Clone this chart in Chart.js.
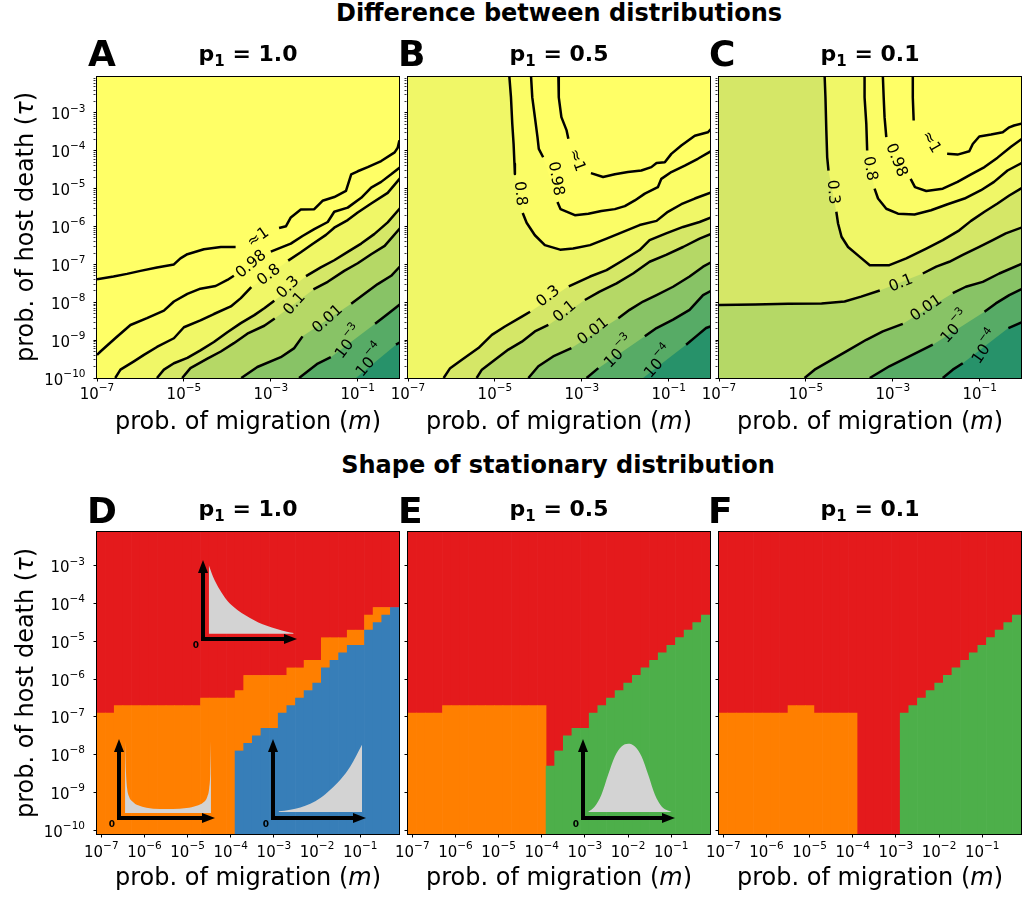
<!DOCTYPE html>
<html>
<head>
<meta charset="utf-8">
<title>Difference between distributions / Shape of stationary distribution</title>
<script src="https://cdn.jsdelivr.net/npm/chart.js"></script>
<style>
html,body{margin:0;padding:0;background:#fff;}
#fig{position:relative;width:1024px;height:900px;overflow:hidden;font-family:"DejaVu Sans",sans-serif;color:#000;background:#fff;}
#fig canvas{position:absolute;}
.tx{position:absolute;white-space:nowrap;line-height:1;transform:translate(-50%,-50%);}
.b{font-weight:bold;}
.lt{position:absolute;white-space:nowrap;line-height:1;transform:translate(0,-50%);font-weight:bold;font-size:36px;}
.sub{font-size:15px;position:relative;top:5px;}
.yt{transform:translate(-50%,-50%) rotate(-90deg);}
</style>
</head>
<body>
<div id="fig">
<canvas id="cA" width="412" height="363" style="left:1px;top:57px"></canvas>
<canvas id="cB" width="412" height="363" style="left:312px;top:57px"></canvas>
<canvas id="cC" width="412" height="363" style="left:623px;top:57px"></canvas>
<canvas id="cD" width="412" height="364" style="left:1px;top:512px"></canvas>
<canvas id="cE" width="412" height="364" style="left:312px;top:512px"></canvas>
<canvas id="cF" width="412" height="364" style="left:623px;top:512px"></canvas>
<canvas id="i1" width="116" height="99" style="left:191px;top:552px"></canvas>
<canvas id="i2" width="118" height="99" style="left:107px;top:731px"></canvas>
<canvas id="i3" width="115" height="99" style="left:261px;top:731px"></canvas>
<canvas id="i4" width="114" height="99" style="left:571px;top:731px"></canvas>

<div class="tx b" style="left:559px;top:13px;font-size:24px">Difference between distributions</div>
<div class="tx b" style="left:558px;top:465px;font-size:24px">Shape of stationary distribution</div>

<div class="lt" style="left:88px;top:54px">A</div>
<div class="lt" style="left:398px;top:54px">B</div>
<div class="lt" style="left:709px;top:54px">C</div>
<div class="lt" style="left:87px;top:511px">D</div>
<div class="lt" style="left:398px;top:511px">E</div>
<div class="lt" style="left:708px;top:511px">F</div>

<div class="tx b" style="left:248px;top:54px;font-size:22px">p<span class="sub">1</span> = 1.0</div>
<div class="tx b" style="left:559px;top:54px;font-size:22px">p<span class="sub">1</span> = 0.5</div>
<div class="tx b" style="left:870px;top:54px;font-size:22px">p<span class="sub">1</span> = 0.1</div>
<div class="tx b" style="left:248px;top:509px;font-size:22px">p<span class="sub">1</span> = 1.0</div>
<div class="tx b" style="left:559px;top:509px;font-size:22px">p<span class="sub">1</span> = 0.5</div>
<div class="tx b" style="left:870px;top:509px;font-size:22px">p<span class="sub">1</span> = 0.1</div>

<div class="tx" style="left:248px;top:421px;font-size:24px">prob. of migration (<i>m</i>)</div>
<div class="tx" style="left:559px;top:421px;font-size:24px">prob. of migration (<i>m</i>)</div>
<div class="tx" style="left:870px;top:421px;font-size:24px">prob. of migration (<i>m</i>)</div>
<div class="tx" style="left:248px;top:877px;font-size:24px">prob. of migration (<i>m</i>)</div>
<div class="tx" style="left:559px;top:877px;font-size:24px">prob. of migration (<i>m</i>)</div>
<div class="tx" style="left:870px;top:877px;font-size:24px">prob. of migration (<i>m</i>)</div>
<div class="tx yt" style="left:25px;top:227px;font-size:24px">prob. of host death (<i>τ</i>)</div>
<div class="tx yt" style="left:25px;top:683px;font-size:24px">prob. of host death (<i>τ</i>)</div>
</div>

<script>
// ===================== DATA (log10 units) =====================
// axis ticks (exponents of 10)
const topXMajor = [-7, -5, -3, -1];
const topYMajor = [-10, -9, -8, -7, -6, -5, -4, -3];
const topYMinorDecades = [-10, -9, -8, -7, -6, -5, -4, -3];
const botXMajor = [-7, -6, -5, -4, -3, -2, -1];
const botYMajor = [-10, -9, -8, -7, -6, -5, -4, -3];
const minorSubs = [2, 3, 4, 5, 6, 7, 8, 9];
const topXLim = [-7, -0.05], topYLim = [-10, -2.05];
const botXLim = [-7.1, -0.1], botYLim = [-10.1, -2.1];

// contour levels (top row); "10^-3" = 10 with superscript -3
const levelText = ['≈1', '0.98', '0.8', '0.3', '0.1', '0.01', '10^-3', '10^-4'];

// ---- Panel A (p1 = 1.0): contour lines [log10 m, log10 tau], null = label gap
const A_c1 = [[-7.00,-7.39],[-6.62,-7.32],[-6.31,-7.25],[-6.00,-7.17],[-5.62,-7.08],[-5.23,-7.00],[-5.08,-6.84],[-4.92,-6.73],[-4.54,-6.60],[-4.15,-6.54],[-3.81,-6.54],null,[-2.81,-6.04],[-2.65,-5.99],[-2.54,-5.76],[-2.31,-5.55],[-2.00,-5.54],[-1.81,-5.32],[-1.54,-5.22],[-1.27,-5.06],[-1.15,-4.62],[-1.00,-4.54],[-0.77,-4.43],[-0.46,-4.27],[-0.15,-4.04],[-0.08,-3.92],[-0.04,-3.72]];
const A_c2 = [[-7.00,-9.39],[-6.92,-9.30],[-6.58,-8.95],[-6.23,-8.60],[-5.85,-8.42],[-5.46,-8.22],[-5.23,-7.98],[-4.92,-7.78],[-4.62,-7.64],[-4.27,-7.57],[-4.00,-7.41],[-3.85,-7.30],null,[-3.00,-6.66],[-2.54,-6.45],[-2.27,-6.25],[-2.00,-6.07],[-1.69,-5.88],[-1.54,-5.61],[-1.23,-5.50],[-0.92,-5.24],[-0.69,-4.97],[-0.46,-4.82],[-0.23,-4.62],[0.00,-4.41]];
const A_c3 = [[-6.58,-10.00],[-6.46,-9.78],[-6.15,-9.56],[-5.92,-9.39],[-5.62,-9.18],[-5.23,-8.95],[-5.00,-8.66],[-4.62,-8.48],[-4.31,-8.31],[-3.92,-8.11],[-3.69,-7.89],[-3.45,-7.60],null,[-2.60,-6.90],[-2.31,-6.68],[-2.04,-6.46],[-1.73,-6.22],[-1.54,-6.03],[-1.23,-5.83],[-1.00,-5.63],[-0.69,-5.39],[-0.31,-5.11],[0.00,-4.69]];
const A_c4 = [[-5.62,-10.00],[-5.46,-9.78],[-5.23,-9.61],[-4.92,-9.47],[-4.62,-9.27],[-4.31,-9.05],[-4.00,-8.79],[-3.69,-8.55],[-3.38,-8.34],[-3.15,-8.16],[-2.92,-7.96],null,[-2.19,-7.31],[-1.85,-7.08],[-1.54,-6.89],[-1.23,-6.67],[-0.92,-6.45],[-0.62,-6.20],[-0.31,-5.89],[0.00,-5.48]];
const A_c5 = [[-5.04,-10.00],[-4.85,-9.74],[-4.46,-9.49],[-4.15,-9.30],[-3.85,-9.08],[-3.54,-8.83],[-3.15,-8.62],[-2.91,-8.43],null,[-2.02,-7.66],[-1.69,-7.46],[-1.31,-7.17],[-1.00,-6.97],[-0.69,-6.73],[-0.38,-6.51],[0.00,-6.01]];
const A_c6 = [[-3.68,-10.00],[-3.31,-9.71],[-2.77,-9.45],[-2.46,-9.21],[-2.27,-8.90],null,[-1.15,-8.04],[-0.85,-7.78],[-0.54,-7.52],[-0.23,-7.30],[0.00,-7.02]];
const A_c7 = [[-2.35,-10.00],[-1.92,-9.62],[-1.62,-9.45],null,[-0.60,-8.57],[-0.31,-8.31],[0.00,-8.03]];
const A_c8 = [[-1.04,-10.00],null,[-0.12,-9.12],[0.00,-9.04]];
// label position [log10 m, log10 tau, rotation deg]
const A_labels = [[-3.29,-6.29,-35],[-3.45,-7.00,-40],[-3.04,-7.28,-38],[-2.60,-7.61,-45],[-2.45,-8.04,-48],[-1.69,-8.45,-42],[-1.22,-9.04,-52],[-0.73,-9.52,-50]];

// ---- Panel B (p1 = 0.5)
const B_c1 = [[-3.54,-2.00],[-3.53,-2.59],[-3.47,-3.11],[-3.35,-3.46],[-3.31,-3.68],null,[-2.79,-4.59],[-2.51,-4.69],[-2.24,-4.62],[-1.94,-4.56],[-1.63,-4.52],[-1.40,-4.43],[-1.28,-4.32],[-1.09,-4.30],[-0.94,-4.08],[-0.71,-3.86],[-0.40,-3.60],[-0.10,-3.51],[0.00,-3.39]];
const B_c2 = [[-4.17,-2.00],[-4.14,-2.59],[-4.08,-3.11],[-4.02,-3.64],[-3.99,-3.95],[-3.89,-4.17],null,[-3.56,-5.35],[-3.49,-5.54],[-3.16,-5.70],[-2.85,-5.66],[-2.55,-5.59],[-2.24,-5.54],[-2.01,-5.46],[-1.78,-5.31],[-1.55,-5.13],[-1.25,-4.96],[-1.17,-4.74],[-0.94,-4.56],[-0.63,-4.39],[-0.33,-4.21],[0.00,-3.99]];
const B_c3 = [[-4.67,-2.00],[-4.63,-2.59],[-4.60,-3.29],[-4.57,-3.82],[-4.55,-4.34],[-4.54,-4.61],null,[-4.36,-5.64],[-4.27,-5.90],[-4.08,-6.23],[-3.85,-6.49],[-3.50,-6.61],[-3.20,-6.58],[-2.81,-6.49],[-2.43,-6.32],[-2.05,-6.14],[-1.67,-5.96],[-1.28,-5.85],[-1.02,-5.61],[-0.71,-5.41],[-0.40,-5.26],[0.00,-5.09]];
const B_c4 = [[-6.18,-10.00],[-6.03,-9.74],[-5.76,-9.52],[-5.38,-9.21],[-5.07,-8.86],[-4.77,-8.64],[-4.38,-8.38],[-4.19,-8.25],null,[-3.30,-7.58],[-2.81,-7.32],[-2.43,-7.15],[-2.05,-6.89],[-1.67,-6.62],[-1.44,-6.36],[-1.06,-6.18],[-0.67,-6.01],[-0.29,-5.88],[0.00,-5.75]];
const B_c5 = [[-5.42,-10.00],[-5.30,-9.78],[-5.00,-9.52],[-4.69,-9.25],[-4.38,-9.04],[-4.08,-8.77],[-3.77,-8.60],null,[-2.93,-7.94],[-2.59,-7.72],[-2.20,-7.50],[-1.82,-7.24],[-1.44,-6.93],[-1.06,-6.75],[-0.67,-6.54],[-0.29,-6.32],[0.00,-6.18]];
const B_c6 = [[-4.23,-10.00],[-4.00,-9.69],[-3.66,-9.43],[-3.24,-9.21],null,[-2.16,-8.42],[-1.90,-8.20],[-1.59,-7.98],[-1.28,-7.81],[-0.90,-7.59],[-0.52,-7.32],[-0.21,-7.06],[0.00,-6.93]];
const B_c7 = [[-2.89,-10.00],[-2.62,-9.74],null,[-1.55,-8.90],[-1.28,-8.68],[-0.90,-8.46],[-0.52,-8.20],[-0.21,-7.81],[0.00,-7.68]];
const B_c8 = [[-1.59,-10.00],null,[-0.60,-9.12],[-0.37,-8.90],[-0.14,-8.68],[0.00,-8.62]];
const B_labels = [[-3.12,-4.25,70],[-3.60,-4.74,80],[-4.42,-5.13,84],[-3.77,-7.85,-38],[-3.39,-8.25,-40],[-2.74,-8.77,-38],[-2.16,-9.30,-45],[-1.25,-9.56,-48]];

// ---- Panel C (p1 = 0.1)
const C_c1 = [[-2.54,-2.00],[-2.54,-2.59],[-2.52,-3.20],null,[-1.75,-4.08],[-1.51,-4.10],[-1.24,-4.01],[-1.16,-3.82],[-1.01,-3.62],[-0.74,-3.57],[-0.47,-3.51],[-0.32,-3.38],[-0.21,-3.33],[0.00,-3.27]];
const C_c2 = [[-3.23,-2.00],[-3.21,-2.59],[-3.19,-3.11],[-3.15,-3.64],null,[-2.59,-4.74],[-2.49,-4.96],[-2.23,-5.06],[-1.85,-5.00],[-1.51,-4.82],[-1.20,-4.62],[-0.89,-4.43],[-0.59,-4.18],[-0.28,-3.89],[0.00,-3.66]];
const C_c3 = [[-3.65,-2.00],[-3.65,-2.59],[-3.61,-3.29],[-3.59,-3.99],null,[-3.42,-5.00],[-3.34,-5.26],[-3.15,-5.53],[-2.88,-5.66],[-2.50,-5.68],[-2.12,-5.57],[-1.74,-5.41],[-1.35,-5.26],[-0.97,-5.04],[-0.67,-4.82],[-0.36,-4.52],[0.00,-4.30]];
const C_c4 = [[-4.57,-2.00],[-4.55,-2.59],[-4.53,-3.46],[-4.51,-4.17],[-4.48,-4.52],null,[-4.30,-5.61],[-4.26,-5.92],[-4.18,-6.27],[-4.03,-6.54],[-3.76,-6.80],[-3.53,-7.02],[-3.08,-7.02],[-2.69,-6.84],[-2.23,-6.58],[-1.85,-6.36],[-1.47,-6.10],[-1.20,-5.85],[-0.89,-5.61],[-0.59,-5.39],[-0.32,-5.18],[0.00,-4.96]];
const C_c5 = [[-7.00,-8.07],[-6.17,-8.06],[-5.41,-8.04],[-4.64,-8.03],[-4.11,-7.98],[-3.73,-7.85],[-3.30,-7.69],null,[-2.31,-7.24],[-2.00,-7.06],[-1.70,-6.93],[-1.39,-6.75],[-1.01,-6.54],[-0.70,-6.36],[-0.40,-6.18],[0.00,-6.01]];
const C_c6 = [[-5.03,-10.00],[-4.80,-9.78],[-4.41,-9.52],[-4.03,-9.27],[-3.61,-8.99],[-3.23,-8.77],[-2.77,-8.57],null,[-1.62,-7.76],[-1.32,-7.59],[-0.93,-7.46],[-0.55,-7.24],[0.00,-6.97]];
const C_c7 = [[-3.53,-10.00],[-3.08,-9.69],[-2.62,-9.43],[-2.08,-9.12],null,[-0.89,-8.25],[-0.63,-8.03],[-0.32,-7.81],[0.00,-7.63]];
const C_c8 = [[-1.85,-10.00],[-1.62,-9.78],[-1.39,-9.61],null,[-0.34,-8.68],[0.00,-8.51]];
const C_labels = [[-2.12,-3.77,60],[-2.92,-4.25,68],[-3.53,-4.47,80],[-4.38,-5.09,85],[-2.81,-7.50,-22],[-2.23,-8.16,-35],[-1.58,-8.64,-48],[-0.89,-9.17,-55]];

// ---- Bottom row: grid columns (log10 m) and region boundaries (log10 tau, cell edges)
const mCols = [-7.0,-6.8,-6.6,-6.4,-6.2,-6.0,-5.8,-5.6,-5.4,-5.2,-5.0,-4.8,-4.6,-4.4,-4.2,-4.0,-3.8,-3.6,-3.4,-3.2,-3.0,-2.8,-2.6,-2.4,-2.2,-2.0,-1.8,-1.6,-1.4,-1.2,-1.0,-0.8,-0.6,-0.4,-0.2];
const D_blueTop   = [null,null,null,null,null,null,null,null,null,null,null,null,null,null,null,null,-7.9,-7.7,-7.5,-7.3,-7.3,-6.9,-6.7,-6.5,-6.3,-6.1,-5.7,-5.5,-5.3,-5.1,-5.1,-4.7,-4.5,-4.3,-4.1];
const D_orangeTop = [-6.9,-6.9,-6.7,-6.7,-6.7,-6.7,-6.7,-6.7,-6.7,-6.7,-6.7,-6.7,-6.5,-6.5,-6.5,-6.5,-6.3,-5.9,-5.9,-5.9,-5.9,-5.9,-5.7,-5.7,-5.5,-5.5,-4.9,-4.9,-4.9,-4.7,-4.7,-4.3,-4.1,-4.1,-4.1];
const E_orangeTop = [-6.9,-6.9,-6.9,-6.9,-6.7,-6.7,-6.7,-6.7,-6.7,-6.7,-6.7,-6.7,-6.7,-6.7,-6.7,-6.7,null,null,null,null,null,null,null,null,null,null,null,null,null,null,null,null,null,null,null];
const E_greenTop  = [null,null,null,null,null,null,null,null,null,null,null,null,null,null,null,null,-8.3,-7.9,-7.5,-7.3,-7.3,-6.9,-6.7,-6.5,-6.3,-6.1,-5.9,-5.7,-5.5,-5.3,-5.1,-4.9,-4.7,-4.5,-4.3];
const F_orangeTop = [-6.9,-6.9,-6.9,-6.9,-6.9,-6.9,-6.9,-6.9,-6.7,-6.7,-6.7,-6.9,-6.9,-6.9,-6.9,-6.9,null,null,null,null,null,null,null,null,null,null,null,null,null,null,null,null,null,null,null];
const F_greenTop  = [null,null,null,null,null,null,null,null,null,null,null,null,null,null,null,null,null,null,null,null,null,-6.9,-6.7,-6.5,-6.3,-6.1,-5.9,-5.7,-5.5,-5.3,-5.1,-4.9,-4.7,-4.5,-4.3];

// ---- Inset sketches of the stationary distribution shapes (normalised 0..1 coordinates)
const insetDecay = [[0.061,0.937],[0.107,0.789],[0.179,0.622],[0.25,0.496],[0.321,0.411],[0.411,0.328],[0.50,0.265],[0.589,0.209],[0.679,0.168],[0.786,0.126],[0.893,0.092],[0.964,0.076]];
const insetU = [[0.063,0.97],[0.073,0.57],[0.084,0.38],[0.105,0.27],[0.14,0.21],[0.199,0.16],[0.286,0.13],[0.425,0.114],[0.564,0.114],[0.704,0.127],[0.809,0.156],[0.878,0.197],[0.92,0.27],[0.94,0.38],[0.951,0.57],[0.958,0.97]];
const insetRise = [[0.06,0.084],[0.186,0.105],[0.294,0.134],[0.401,0.181],[0.509,0.253],[0.616,0.358],[0.724,0.485],[0.831,0.653],[0.957,0.928]];
const insetBell = [[0.055,0.076],[0.128,0.147],[0.20,0.295],[0.273,0.548],[0.346,0.78],[0.419,0.906],[0.491,0.94],[0.564,0.906],[0.637,0.78],[0.709,0.548],[0.782,0.295],[0.855,0.147],[0.964,0.076]];
const insetBase = [0.067, 0.063, 0.076, 0.076];

// ===================== STYLE =====================
const bandColors = ['#ffff66','#ffff66','#fbfd66','#f0f767','#d5e767','#b5d866','#88c366','#57ab66'];
const baseColor = '#27926a';
const regionColors = {red:'#e41a1c', orange:'#ff7f00', blue:'#377eb8', green:'#4daf4a', grey:'#d3d3d3'};
const FONT = '"DejaVu Sans", sans-serif';

// ===================== HELPERS =====================
Chart.defaults.font.family = FONT;
Chart.defaults.color = '#000';
const toXY = p => ({x: Math.pow(10, p[0]), y: Math.pow(10, p[1])});

// draw "base^sup" (mathtext-like) with its left edge at x, baseline at y
function drawPow(ctx, base, sup, x, y, size) {
  ctx.font = size + 'px ' + FONT;
  const w1 = ctx.measureText(base).width;
  ctx.fillText(base, x, y);
  ctx.font = (size * 0.7) + 'px ' + FONT;
  ctx.fillText(sup, x + w1, y - size * 0.53);
}
function powWidth(ctx, base, sup, size) {
  ctx.font = size + 'px ' + FONT;
  const w1 = ctx.measureText(base).width;
  ctx.font = (size * 0.7) + 'px ' + FONT;
  return w1 + ctx.measureText(sup).width;
}
const expSup = e => String(e).replace('-', '\u2212');

function logScale(pos, lim, majors, minorDecades, labelled, fixed) {
  const lo = Math.pow(10, lim[0]), hi = Math.pow(10, lim[1]);
  return {
    type: 'logarithmic', position: pos, min: lo, max: hi, bounds: 'data', offset: false,
    afterBuildTicks(s) {
      const t = [];
      majors.forEach(e => t.push({value: Math.pow(10, e), major: true, exp: labelled ? e : undefined}));
      (minorDecades || []).forEach(d => minorSubs.forEach(k => {
        const v = k * Math.pow(10, d);
        if (v > lo && v < hi) t.push({value: v, major: false});
      }));
      t.sort((a, b) => a.value - b.value);
      s.ticks = t;
    },
    afterFit(s) { if (pos === 'bottom') s.height = fixed; else s.width = fixed; },
    ticks: {autoSkip: false, maxRotation: 0, minRotation: 0, padding: 2, callback: () => ''},
    grid: {display: true, drawOnChartArea: false, drawTicks: true, tickLength: 3.5, offset: false,
      tickColor: '#000',
      tickWidth: c => (c.tick && c.tick.major) ? 1 : 0.8,
      tickBorderDash: c => (c.tick && !c.tick.major) ? [2, 20] : []},
    border: {display: false}
  };
}

// tick labels 10^n in mathtext style, placed from the library's scales
function mathTickPlugin(xBaseOff, yRightOff) {
  return {id: 'mathticks', afterDraw(chart) {
    const {ctx, chartArea: a} = chart;
    ctx.save(); ctx.fillStyle = '#000'; ctx.textAlign = 'left'; ctx.textBaseline = 'alphabetic';
    const size = 15;
    ['x', 'y'].forEach(id => {
      const s = chart.scales[id];
      s.ticks.forEach(t => {
        if (t.exp === undefined) return;
        const sup = expSup(t.exp);
        const W = powWidth(ctx, '10', sup, size);
        if (id === 'x') drawPow(ctx, '10', sup, s.getPixelForValue(t.value) - W / 2, a.bottom + xBaseOff, size);
        else drawPow(ctx, '10', sup, a.left - yRightOff - W, s.getPixelForValue(t.value) + 6.5, size);
      });
    });
    ctx.restore();
  }};
}

const boxPlugin = {
  id: 'box',
  afterDatasetsDraw(chart) {
    const {ctx, chartArea: a} = chart;
    ctx.save(); ctx.strokeStyle = '#000'; ctx.lineWidth = 1;
    ctx.strokeRect(a.left - 0.5, a.top - 0.5, a.right - a.left + 1, a.bottom - a.top + 1);
    ctx.restore();
  }
};
function bgPlugin(color) {
  return {id: 'bg', beforeDatasetsDraw(chart) {
    const {ctx, chartArea: a} = chart;
    ctx.save(); ctx.fillStyle = color; ctx.fillRect(a.left, a.top, a.right - a.left, a.bottom - a.top); ctx.restore();
  }};
}
function labelPlugin(items) {
  return {id: 'clabels', afterDatasetsDraw(chart) {
    const {ctx, scales: {x, y}} = chart;
    ctx.save();
    ctx.fillStyle = '#000'; ctx.textBaseline = 'middle';
    const size = 15.5;
    items.forEach((it, k) => {
      const px = x.getPixelForValue(Math.pow(10, it[0])), py = y.getPixelForValue(Math.pow(10, it[1]));
      ctx.save(); ctx.translate(px, py); ctx.rotate(it[2] * Math.PI / 180);
      const txt = levelText[k];
      if (txt.indexOf('^') >= 0) {
        const [b, e] = txt.split('^');
        const sup = expSup(e);
        ctx.textAlign = 'left';
        const W = powWidth(ctx, b, sup, size);
        drawPow(ctx, b, sup, -W / 2, 2, size);
      } else {
        ctx.textAlign = 'center'; ctx.font = size + 'px ' + FONT;
        ctx.fillText(txt, 0, 0);
      }
      ctx.restore();
    });
    ctx.restore();
  }};
}

function makeTop(id, contours, labels, showY) {
  const [X0, X1] = topXLim, [Y0, Y1] = topYLim, E = 0.3;
  const ds = [];
  contours.forEach((c, k) => {
    const pts = c.filter(Boolean);
    const s = pts[0], e = pts[pts.length - 1];
    const poly = pts.slice();
    poly.push([X1 + E, e[1]]);
    poly.push([X1 + E, Y1 + E]);
    if (s[1] >= Y1 - 0.1) { poly.push([s[0], Y1 + E]); }
    else if (s[0] <= X0 + 0.05) { poly.push([X0 - E, Y1 + E]); poly.push([X0 - E, s[1]]); }
    else { poly.push([X0 - E, Y1 + E]); poly.push([X0 - E, Y0 - E]); poly.push([s[0], Y0 - E]); }
    ds.push({type: 'line', data: poly.map(toXY), fill: 'shape', backgroundColor: bandColors[k],
      borderWidth: 0, pointRadius: 0, order: 100 + k});
  });
  contours.forEach(c => ds.push({type: 'line', data: c.map(p => p ? toXY(p) : {x: null, y: null}),
    borderColor: '#000', borderWidth: 2.5, pointRadius: 0, fill: false, spanGaps: false,
    borderJoinStyle: 'round', order: 1}));
  new Chart(document.getElementById(id), {
    type: 'line',
    data: {datasets: ds},
    options: {
      responsive: false, animation: false, events: [],
      layout: {padding: {left: 0, top: 20, right: 14, bottom: 0}},
      scales: {
        x: logScale('bottom', topXLim, topXMajor, null, true, 42),
        y: logScale('left', topYLim, topYMajor, topYMinorDecades, showY, 96)
      },
      plugins: {legend: {display: false}, tooltip: {enabled: false}}
    },
    plugins: [bgPlugin(baseColor), labelPlugin(labels), boxPlugin, mathTickPlugin(21, 11.5)]
  });
}

function bars(lo, hi) {
  const out = [];
  mCols.forEach((m, i) => {
    const a = lo[i], b = hi[i];
    if (a == null || b == null || b <= a) return;
    out.push({x: Math.pow(10, m), y: [Math.pow(10, a), Math.pow(10, b)]});
  });
  return out;
}
function makeBottom(id, layers, showY) {
  new Chart(document.getElementById(id), {
    type: 'bar',
    data: {datasets: layers.map(L => ({data: L.data, backgroundColor: L.color, borderWidth: 0,
      barPercentage: 1, categoryPercentage: 1, grouped: false, order: L.order}))},
    options: {
      responsive: false, animation: false, events: [],
      layout: {padding: {left: 0, top: 20, right: 14, bottom: 0}},
      scales: {
        x: logScale('bottom', botXLim, botXMajor, null, true, 42),
        y: logScale('left', botYLim, botYMajor, null, showY, 96)
      },
      plugins: {legend: {display: false}, tooltip: {enabled: false}}
    },
    plugins: [boxPlugin, mathTickPlugin(22.5, 12)]
  });
}

const arrowPlugin = {
  id: 'arrows',
  afterDatasetsDraw(chart) {
    const {ctx, scales: {x, y}} = chart;
    const ox = x.getPixelForValue(0), oy = y.getPixelForValue(0);
    const hx = x.getPixelForValue(1), vy = y.getPixelForValue(1);
    const L = 13, W = 5;
    ctx.save(); ctx.fillStyle = '#000'; ctx.strokeStyle = '#000'; ctx.lineWidth = 4;
    ctx.beginPath(); ctx.moveTo(ox - 2, oy); ctx.lineTo(hx - L + 1, oy); ctx.stroke();
    ctx.beginPath(); ctx.moveTo(hx, oy); ctx.lineTo(hx - L, oy - W); ctx.lineTo(hx - L, oy + W); ctx.closePath(); ctx.fill();
    ctx.beginPath(); ctx.moveTo(ox, oy + 2); ctx.lineTo(ox, vy + L - 1); ctx.stroke();
    ctx.beginPath(); ctx.moveTo(ox, vy); ctx.lineTo(ox - W, vy + L); ctx.lineTo(ox + W, vy + L); ctx.closePath(); ctx.fill();
    ctx.font = 'bold 9px ' + FONT; ctx.textAlign = 'center'; ctx.textBaseline = 'middle';
    ctx.fillText('0', ox - 7, oy + 7);
    ctx.restore();
  }
};
function makeInset(id, curve, base) {
  new Chart(document.getElementById(id), {
    type: 'line',
    data: {datasets: [{data: curve.map(p => ({x: p[0], y: p[1]})), fill: {value: base},
      backgroundColor: regionColors.grey, borderWidth: 0, pointRadius: 0, cubicInterpolationMode: 'monotone'}]},
    options: {
      responsive: false, animation: false, events: [],
      layout: {padding: {left: 12, top: 8, right: 10, bottom: 12}},
      scales: {x: {type: 'linear', min: 0, max: 1, display: false}, y: {type: 'linear', min: 0, max: 1, display: false}},
      plugins: {legend: {display: false}, tooltip: {enabled: false}}
    },
    plugins: [arrowPlugin]
  });
}

// ===================== BUILD =====================
makeTop('cA', [A_c1, A_c2, A_c3, A_c4, A_c5, A_c6, A_c7, A_c8], A_labels, true);
makeTop('cB', [B_c1, B_c2, B_c3, B_c4, B_c5, B_c6, B_c7, B_c8], B_labels, false);
makeTop('cC', [C_c1, C_c2, C_c3, C_c4, C_c5, C_c6, C_c7, C_c8], C_labels, false);

const YB0 = botYLim[0], YB1 = botYLim[1];
const colBottom = mCols.map(() => YB0), colTop = mCols.map(() => YB1);
makeBottom('cD', [
  {color: regionColors.red, order: 3, data: bars(D_orangeTop, colTop)},
  {color: regionColors.orange, order: 2, data: bars(D_blueTop.map(v => v ?? YB0), D_orangeTop)},
  {color: regionColors.blue, order: 1, data: bars(colBottom, D_blueTop)}
], true);
makeBottom('cE', [
  {color: regionColors.red, order: 3, data: bars(mCols.map((_, i) => E_orangeTop[i] ?? E_greenTop[i] ?? YB0), colTop)},
  {color: regionColors.orange, order: 2, data: bars(colBottom, E_orangeTop)},
  {color: regionColors.green, order: 1, data: bars(colBottom, E_greenTop)}
], false);
makeBottom('cF', [
  {color: regionColors.red, order: 3, data: bars(mCols.map((_, i) => F_orangeTop[i] ?? F_greenTop[i] ?? YB0), colTop)},
  {color: regionColors.orange, order: 2, data: bars(colBottom, F_orangeTop)},
  {color: regionColors.green, order: 1, data: bars(colBottom, F_greenTop)}
], false);

makeInset('i1', insetDecay, insetBase[0]);
makeInset('i2', insetU, insetBase[1]);
makeInset('i3', insetRise, insetBase[2]);
makeInset('i4', insetBell, insetBase[3]);
</script>
</body>
</html>
